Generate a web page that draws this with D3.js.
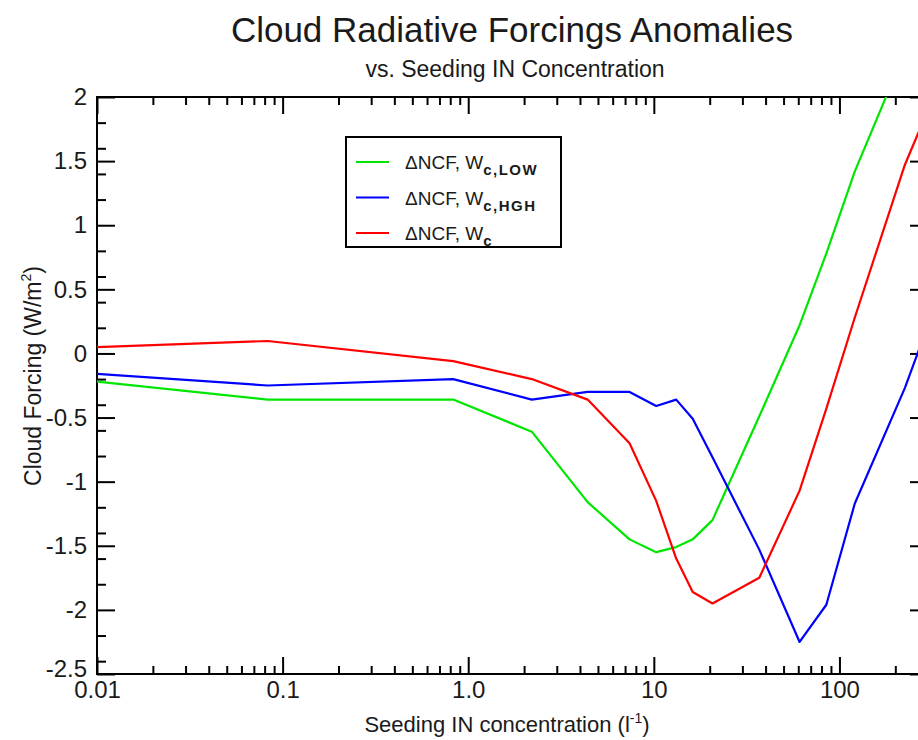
<!DOCTYPE html>
<html>
<head>
<meta charset="utf-8">
<script src="https://cdnjs.cloudflare.com/ajax/libs/d3/7.8.5/d3.min.js"></script>
<style>
  body { margin: 0; background: #fff; }
  text { font-family: "Liberation Sans", Arial, sans-serif; fill: #1a1a1a; }
</style>
</head>
<body>
<div id="chart"></div>
<script>
// seeding IN concentration (l-1), shared by the three runs
var concentration = [0.01, 0.083, 0.83, 2.2, 4.4, 7.4, 10.3, 13.2, 16.2, 20.7, 37, 61, 85, 121, 225, 300];

// cloud forcing anomalies (W/m2)
var ncfLow  = [-0.22, -0.36, -0.36, -0.61, -1.16, -1.45, -1.55, -1.51, -1.45, -1.30, -0.49, 0.22, 0.78, 1.42, 2.35, 2.7];
var ncfHigh = [-0.16, -0.25, -0.20, -0.36, -0.30, -0.30, -0.41, -0.36, -0.51, -0.81, -1.53, -2.25, -1.96, -1.17, -0.27, 0.22];
var ncfMid  = [0.05, 0.097, -0.06, -0.20, -0.36, -0.70, -1.15, -1.60, -1.86, -1.95, -1.75, -1.07, -0.43, 0.28, 1.47, 1.90];

var seriesNames = ['c,LOW', 'c,HGH', 'c'];
var seriesColors = ['#00e600', '#0000ff', '#ff0000'];

var xTickValues = [0.01, 0.1, 1, 10, 100];
var xTickLabels = ['0.01', '0.1', '1.0', '10', '100'];
var yTickValues = [-2.5, -2, -1.5, -1, -0.5, 0, 0.5, 1, 1.5, 2];
var yTickLabels = ['-2.5', '-2', '-1.5', '-1', '-0.5', '0', '0.5', '1', '1.5', '2'];

var margin = { top: 97, left: 97 };
var width = 831,
    height = 577;

var svg = d3.select('#chart').append('svg')
  .attr('width', 918)
  .attr('height', 740);

var x = d3.scaleLog().domain([0.01, 300]).range([0, width]);
var y = d3.scaleLinear().domain([-2.5, 2]).range([height, 0]);

var g = svg.append('g')
  .attr('transform', 'translate(' + margin.left + ',' + margin.top + ')');

g.append('clipPath').attr('id', 'clip')
  .append('rect').attr('width', width).attr('height', height);

// minor ticks come from the scales themselves
var xMinor = x.ticks().filter(function(d) { return xTickValues.indexOf(d) < 0; });
var yMinor = y.ticks(18).filter(function(d) { return yTickValues.indexOf(d) < 0; });

function styleAxis(sel) {
  sel.select('.domain').remove();
  sel.selectAll('line').attr('stroke', '#000').attr('stroke-width', 2);
  sel.selectAll('text').style('font-size', '24px').attr('fill', '#1a1a1a');
}

// bottom
g.append('g').attr('transform', 'translate(0,' + height + ')')
  .call(d3.axisBottom(x).tickValues(xTickValues).tickSize(-17).tickPadding(7)
    .tickFormat(function(d, i) { return xTickLabels[i]; }))
  .call(styleAxis);
g.append('g').attr('transform', 'translate(0,' + height + ')')
  .call(d3.axisBottom(x).tickValues(xMinor).tickSize(-8).tickFormat(''))
  .call(styleAxis);
// top
g.append('g')
  .call(d3.axisTop(x).tickValues(xTickValues).tickSize(-17).tickFormat(''))
  .call(styleAxis);
g.append('g')
  .call(d3.axisTop(x).tickValues(xMinor).tickSize(-8).tickFormat(''))
  .call(styleAxis);
// left
var yAxisG = g.append('g')
  .call(d3.axisLeft(y).tickValues(yTickValues).tickSize(-18).tickPadding(10)
    .tickFormat(function(d, i) { return yTickLabels[i]; }))
  .call(styleAxis);
// lift the bottom label a little so it clears 0.01
yAxisG.selectAll('.tick text').filter(function(d) { return d === -2.5; }).attr('dy', '0.1em');
g.append('g')
  .call(d3.axisLeft(y).tickValues(yMinor).tickSize(-9).tickFormat(''))
  .call(styleAxis);
// right
g.append('g').attr('transform', 'translate(' + width + ',0)')
  .call(d3.axisRight(y).tickValues(yTickValues).tickSize(-18).tickFormat(''))
  .call(styleAxis);
g.append('g').attr('transform', 'translate(' + width + ',0)')
  .call(d3.axisRight(y).tickValues(yMinor).tickSize(-9).tickFormat(''))
  .call(styleAxis);

g.append('rect')
  .attr('width', width).attr('height', height)
  .attr('fill', 'none').attr('stroke', '#000').attr('stroke-width', 2);

// lines
var line = d3.line()
  .x(function(d) { return x(d[0]); })
  .y(function(d) { return y(d[1]); });

var allSeries = [ncfLow, ncfHigh, ncfMid];

g.append('g').attr('clip-path', 'url(#clip)')
  .selectAll('path')
  .data(allSeries)
  .enter().append('path')
  .attr('d', function(s) { return line(s.map(function(v, i) { return [concentration[i], v]; })); })
  .attr('fill', 'none')
  .attr('stroke', function(d, i) { return seriesColors[i]; })
  .attr('stroke-width', 2.2)
  .attr('stroke-linejoin', 'round');

// legend
var legend = svg.append('g').attr('transform', 'translate(346,137)');
legend.append('rect')
  .attr('width', 215).attr('height', 110)
  .attr('fill', '#fff').attr('stroke', '#000').attr('stroke-width', 2);

var rows = legend.selectAll('g.row')
  .data(seriesNames)
  .enter().append('g')
  .attr('class', 'row')
  .attr('transform', function(d, i) { return 'translate(0,' + (25 + i * 35.5) + ')'; });

rows.append('line')
  .attr('x1', 10).attr('x2', 43)
  .attr('stroke', function(d, i) { return seriesColors[i]; })
  .attr('stroke-width', 2.2);

var lt = rows.append('text')
  .attr('x', 59).attr('y', 7)
  .style('font-size', '19px');
lt.append('tspan').text('\u0394NCF, W');
lt.append('tspan')
  .attr('dy', 6)
  .style('font-size', '15px')
  .style('font-weight', 'bold')
  .style('letter-spacing', '1.5px')
  .text(function(d) { return d; });

// titles
svg.append('text')
  .attr('x', 512).attr('y', 42)
  .attr('text-anchor', 'middle')
  .style('font-size', '35px')
  .text('Cloud Radiative Forcings Anomalies');

svg.append('text')
  .attr('x', 515).attr('y', 77)
  .attr('text-anchor', 'middle')
  .style('font-size', '23px')
  .text('vs. Seeding IN Concentration');

var xl = svg.append('text')
  .attr('x', 507).attr('y', 732)
  .attr('text-anchor', 'middle')
  .style('font-size', '22px');
xl.append('tspan').text('Seeding IN concentration (l');
xl.append('tspan').attr('dy', -9).style('font-size', '14px').text('-1');
xl.append('tspan').attr('dy', 9).text(')');

var yl = svg.append('text')
  .attr('transform', 'translate(41,376) rotate(-90)')
  .attr('text-anchor', 'middle')
  .style('font-size', '23px');
yl.append('tspan').text('Cloud Forcing (W/m');
yl.append('tspan').attr('dy', -10).style('font-size', '14px').text('2');
yl.append('tspan').attr('dy', 10).text(')');
</script>
</body>
</html>
